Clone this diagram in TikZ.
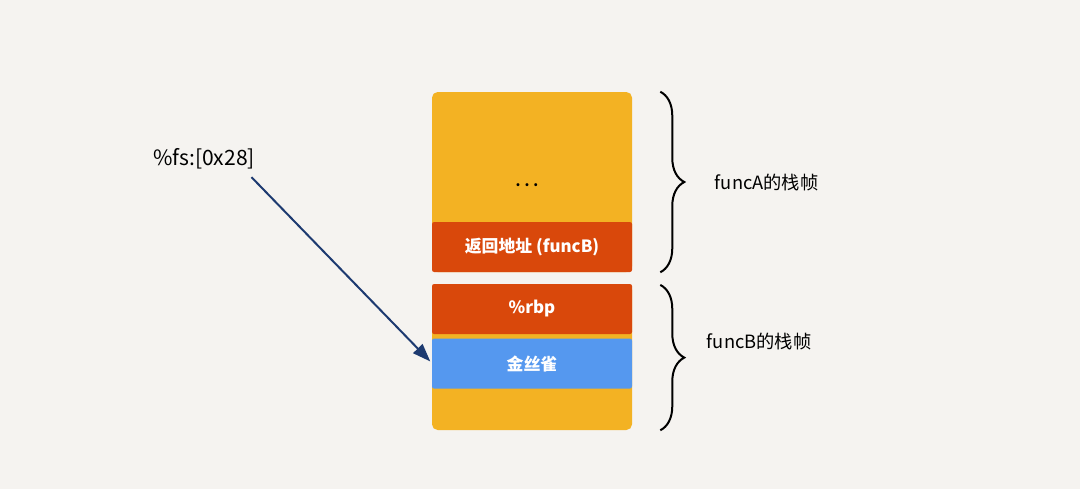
\documentclass[tikz,border=0pt]{standalone}
\usepackage{fontspec}
\setmainfont{Noto Sans CJK SC}
\usetikzlibrary{arrows.meta, decorations.pathreplacing, positioning, calc}
\definecolor{bgcol}{HTML}{F5F3F0}
\definecolor{stackyellow}{HTML}{F3B223}
\definecolor{stackred}{HTML}{D9480B}
\definecolor{stackblue}{HTML}{5598EF}
\definecolor{arrowblue}{HTML}{1D3A70}

\begin{document}
\begin{tikzpicture}[
	yellowbox/.style={rectangle, fill=stackyellow, rounded corners=4pt, minimum width=5cm, inner sep=0pt},
	redbox/.style={rectangle, fill=stackred, rounded corners=1.5pt, minimum width=5cm, minimum height=1.25cm, inner sep=0pt, text=white, font=\bfseries\fontsize{12}{14}\selectfont},
	bluebox/.style={redbox, fill=stackblue},
	arrow/.style={-{Triangle[length=4.5mm, width=3.2mm]}, line width=.5mm, arrowblue},
	brace/.style={decorate, decoration={brace, amplitude=0.6cm}, line width=.5mm},
	label/.style={font=\fontsize{13}{15}\selectfont, anchor=west},
	every node/.style={align=center}
	]
	\fill[bgcol] (0,0) rectangle (27,12.225);
	\useasboundingbox (0,0) rectangle (27,12.225);

	% stack frame of funcA
	\node[yellowbox, minimum height=4.5cm] (frameA) at (13.3,7.675) {};
	\node[redbox, above=0pt of frameA.south, anchor=south] (retaddr) {返回地址 (funcB)};
	\node[font=\bfseries\fontsize{10}{12}\selectfont] (dots) at (13.175,7.6) {.\;.\;.};

	% stack frame of funcB
	\node[yellowbox, minimum height=3.65cm] (frameB) at (13.3,3.3) {};
	\node[redbox, anchor=north] (rbp) at (frameB.north) {\%rbp};
	\node[bluebox, below=0.1cm of rbp] (canary) {金丝雀};

	% pointer
	\node[font=\fontsize{15}{18}\selectfont] (fs) at (5.1,8.25) {\%fs:[0x28]};
	\draw[arrow] ([xshift=-6pt,yshift=-2pt]fs.south east) -- ([xshift=-1pt,yshift=1.5pt]canary.west);

	% braces
	\coordinate (braceAtop) at ([xshift=0.7cm]frameA.north east);
	\coordinate (braceAbot) at ([xshift=0.7cm]frameA.south east);
	\coordinate (braceBtop) at ([xshift=0.7cm,yshift=-0.03cm]frameB.north east);
	\coordinate (braceBbot) at ([xshift=0.7cm]frameB.south east);
	\draw[brace] (braceAtop) -- (braceAbot);
	\draw[brace] (braceBtop) -- (braceBbot);
	\node[label] (labelA) at (17.75,7.65) {funcA的栈帧};
	\node[label] (labelB) at (17.55,3.68) {funcB的栈帧};
\end{tikzpicture}
\end{document}
